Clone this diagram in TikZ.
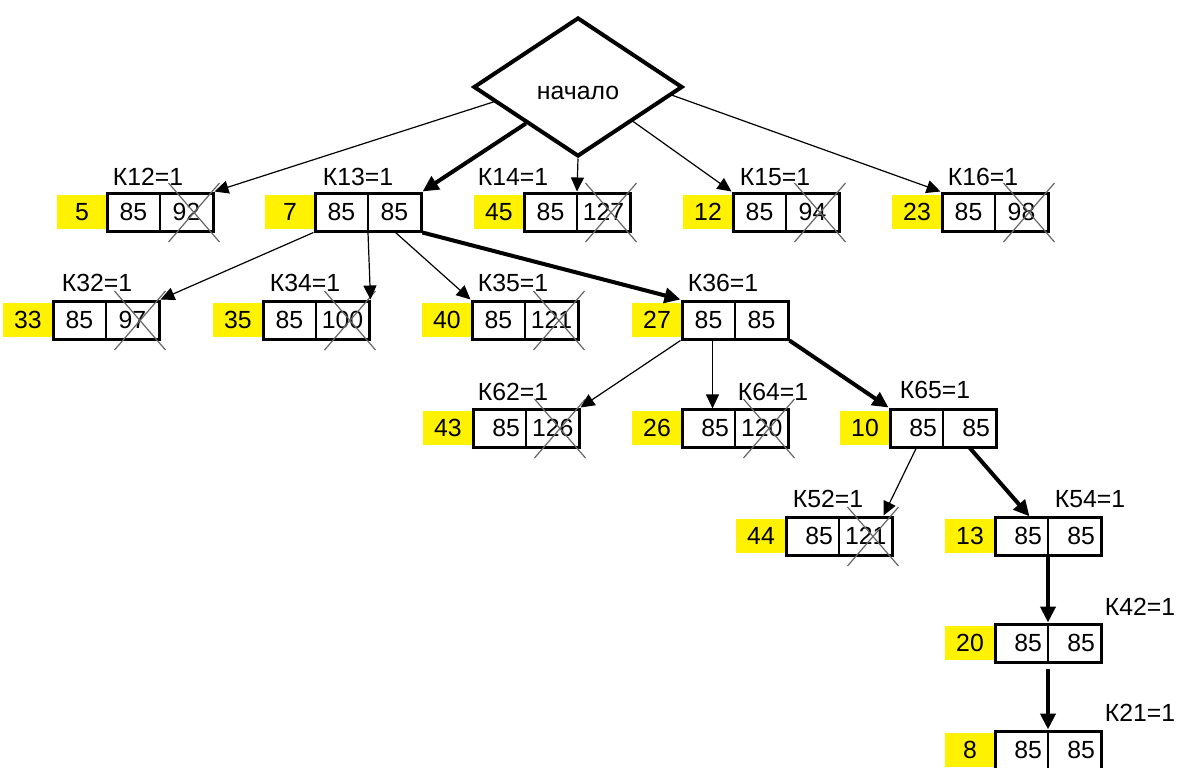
\documentclass[tikz,border=0pt]{standalone}
\usepackage{fontspec}
\setmainfont{Liberation Sans}
\usetikzlibrary{shapes.geometric}
\usetikzlibrary{arrows.meta}

\tikzset{
	decision/.style={diamond, draw, line width=2pt, aspect=1.5, inner sep=0pt, minimum width=104.5pt, minimum height=69.5pt},
	numbox/.style={fill=yellow, inner sep=0pt, minimum width=25pt, minimum height=17pt},
	cellc/.style={draw, line width=0.6pt, inner sep=0pt, minimum width=26.5pt, minimum height=19pt},
	cellr/.style={cellc, text width=20.5pt, align=right, inner xsep=3pt},
	rec/.style={draw, line width=1.5pt, inner sep=0pt, minimum width=53pt, minimum height=19pt},
	klabel/.style={inner sep=0pt},
	crossout/.style={draw=black!60, line width=0.6pt},
	thinarrow/.style={-{Triangle[length=7pt,width=6.5pt]}, line width=0.6pt},
	thickarrow/.style={-{Triangle[length=8pt,width=7.5pt]}, line width=2pt}
}

\begin{document}
\begin{tikzpicture}[x=0.5pt, y=-0.5pt, font=\fontsize{12.4pt}{14pt}\selectfont]
	\useasboundingbox (0,0) rectangle (1179,767);
	
	\node[decision] (nachalo) at (578,87) {\raisebox{-6pt}[0pt][0pt]{начало}};
	
	\foreach \n/\x/\y/\num/\v/\lab/\lx/\ly/\cs in {
		r12/107/193/5/92/К12=1/148/177/cellc,
		r13/315/193/7/85/К13=1/358/177/cellc,
		r14/524/193/45/127/К14=1/513/177/cellc,
		r15/733/193/12/94/К15=1/775/177/cellc,
		r16/942/193/23/98/К16=1/983/177/cellc,
		r32/53/301/33/97/К32=1/97/283/cellc,
		r34/263/301/35/100/К34=1/305/283/cellc,
		r35/472/301/40/121/К35=1/513/283/cellc,
		r36/682/301/27/85/К36=1/723/283/cellc,
		r62/473/409/43/126/К62=1/513/392/cellr,
		r64/682/409/26/120/К64=1/773/392/cellr,
		r65/890/409/10/85/К65=1/935/390/cellr,
		r52/786/517/44/121/К52=1/828/499/cellr,
		r54/995/517/13/85/К54=1/1090/499/cellr,
		r42/995/624/20/85/К42=1/1140/607/cellr,
		r21/995/731/8/85/К21=1/1140/713/cellr}
	{
		\node[numbox] (\n-n) at ({\x-25},{\y+19}) {\num};
		\node[\cs] (\n-a) at ({\x+26.5},{\y+19}) {85};
		\node[\cs] (\n-b) at ({\x+79.5},{\y+19}) {\v};
		\node[rec] (\n) at ({\x+53},{\y+19}) {};
		\node[klabel] (\n-k) at (\lx,\ly) {\lab};
	}
	
	% crossed out values
	\foreach \n in {r12,r14,r15,r16,r32,r34,r35,r62,r64,r52}
		\draw[crossout] ([shift={(-18,-29)}]\n-b.center) -- ([shift={(33,30)}]\n-b.center)
			([shift={(-18,30)}]\n-b.center) -- ([shift={(33,-29)}]\n-b.center);
	
	\draw[thinarrow] (nachalo.190) -- (r12.north east);
	\draw[thickarrow] (nachalo.215) -- (r13.north east);
	\draw[thinarrow] (nachalo.south) -- (r14.north);
	\draw[thinarrow] (nachalo.328) -- (r15.north west);
	\draw[thinarrow] (nachalo.355) -- (r16.north west);
	
	\draw[thinarrow] (r13.south west) -- (r32.north east);
	\draw[thinarrow] (r13.south) -- (r34.north east);
	\draw[thinarrow] (r13-b.south) -- (r35.north west);
	\draw[thickarrow] (r13.south east) -- (r36.north west);
	
	\draw[thinarrow] (r36.south west) -- (r62.north east);
	\draw[thinarrow] ([xshift=2pt]r36-a.south) -- ([xshift=2pt]r64-a.north);
	\draw[thickarrow] (r36.south east) -- (r65.north west);
	
	\draw[thinarrow] (r65-a.south) -- ([xshift=-5pt]r52.north east);
	\draw[thickarrow] (r65-b.south) -- ([xshift=4pt]r54-a.north);
	\draw[thickarrow] (r54.south) -- (r42.north);
	\draw[thickarrow] ([yshift=-2.5pt]r42.south) -- (r21.north);
\end{tikzpicture}
\end{document}
